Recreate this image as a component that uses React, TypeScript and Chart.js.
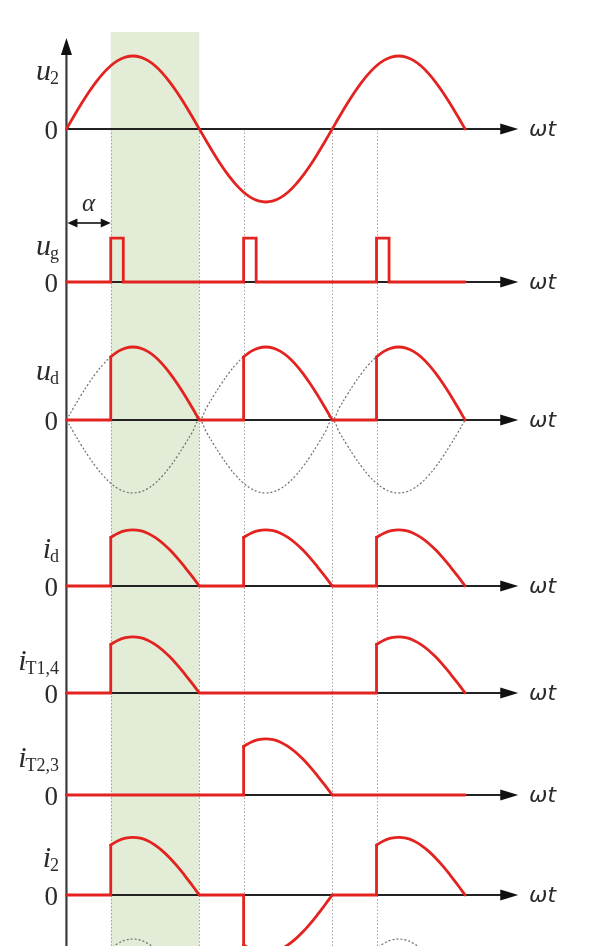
import React, { useEffect, useRef } from 'react';
import { Chart, registerables } from 'chart.js';

Chart.register(...registerables);

// ---------------- data ----------------
const STEP_DEG = 10;
// normalised half-wave shape, sampled every 10° from 0° to 180°
const SIN_HALF_WAVE = [0, 0.174, 0.342, 0.5, 0.643, 0.766, 0.866, 0.94, 0.985, 1, 0.985, 0.94, 0.866, 0.766, 0.643, 0.5, 0.342, 0.174, 0];
const HALF_CYCLE_STARTS = [0, 180, 360];
const END_DEG = 540;
const ALPHA_DEG = 60;
const PULSE_WIDTH_DEG = 17;
const PULSE_HEIGHT = 0.6;
const U2_AMP = 1;
const UD_AMP = 1;
const ID_AMP = 0.77;
const IT_AMP = 0.77;
const I2_AMP = 0.79;
const U2_SIGNS = [1, -1, 1];
const UD_SIGNS = [1, 1, 1];
const ID_SIGNS = [1, 1, 1];
const IT14_SIGNS = [1, 0, 1];
const IT23_SIGNS = [0, 1, 0];
const I2_SIGNS = [1, -1, 1];
const NEXT_DOTTED_SIGNS = [1, 0, 1];
const SHADE_FROM_DEG = 60;
const SHADE_TO_DEG = 180;
const MARKER_ANGLES = [60, 180, 240, 360, 420];
const PANEL_MAIN = ['u', 'u', 'u', 'i', 'i', 'i', 'i'];
const PANEL_SUB = ['2', 'g', 'd', 'd', 'T1,4', 'T2,3', '2'];
const ZERO_TICK = '0';
const X_AXIS_LABEL = 'ωt';
const ALPHA_LABEL = 'α';

// ---------------- layout ----------------
const W = 598;
const H = 946;
const X_MIN = -90;
const X_MAX = 720;
const AXIS_ARROW_DEG = 612;
const PX_PER_UNIT = 73;
const PANEL_ZERO_PX = [129, 282, 420, 586, 693, 795, 895, 1012];
const LABEL_BASELINE_DY = [-49, -27, -40, -28, -23, -28, -28];
const AXIS_IDS = ['yU2', 'yUg', 'yUd', 'yId', 'yIt14', 'yIt23', 'yI2', 'yNext'];
const RED = '#e3231f';
const AXIS_COLOR = '#222222';
const TEXT_COLOR = '#2b2b2b';
const BAND_COLOR = '#e2ecd6';

type P = { x: number; y: number };

function halfWave(base: number, fromDeg: number, sign: number, amp: number): P[] {
  const pts: P[] = [];
  SIN_HALF_WAVE.forEach((v, i) => {
    const a = i * STEP_DEG;
    if (a >= fromDeg) pts.push({ x: base + a, y: sign * amp * v });
  });
  return pts;
}

function redSet(data: P[], yAxisID: string, curved: boolean) {
  return {
    data,
    yAxisID,
    xAxisID: 'x',
    borderColor: RED,
    borderWidth: 2.8,
    pointRadius: 0,
    tension: curved ? 0.4 : 0,
    fill: false,
    order: 0,
    borderCapStyle: 'round',
    borderJoinStyle: 'miter',
  };
}

function dottedSet(data: P[], yAxisID: string) {
  return {
    data,
    yAxisID,
    xAxisID: 'x',
    borderColor: '#6f6f6f',
    borderWidth: 1.2,
    borderDash: [2, 2],
    pointRadius: 0,
    tension: 0.4,
    fill: false,
    order: 1,
  };
}

function controlledSets(signs: number[], amp: number, yAxisID: string) {
  const sets: any[] = [];
  HALF_CYCLE_STARTS.forEach((base, k) => {
    const s = signs[k];
    if (s === 0) {
      sets.push(redSet([{ x: base, y: 0 }, { x: base + 180, y: 0 }], yAxisID, false));
    } else {
      const curve = halfWave(base, ALPHA_DEG, s, amp);
      sets.push(redSet([{ x: base, y: 0 }, { x: base + ALPHA_DEG, y: 0 }, curve[0]], yAxisID, false));
      sets.push(redSet(curve, yAxisID, true));
    }
  });
  return sets;
}

function buildDatasets() {
  const sets: any[] = [];
  // u2
  const u2: P[] = [];
  HALF_CYCLE_STARTS.forEach((base, k) => {
    const pts = halfWave(base, 0, U2_SIGNS[k], U2_AMP);
    (k === 0 ? pts : pts.slice(1)).forEach((p) => u2.push(p));
  });
  sets.push(redSet(u2, AXIS_IDS[0], true));
  // ug pulses
  const ug: P[] = [{ x: 0, y: 0 }];
  HALF_CYCLE_STARTS.forEach((base) => {
    const a = base + ALPHA_DEG;
    ug.push({ x: a, y: 0 }, { x: a, y: PULSE_HEIGHT }, { x: a + PULSE_WIDTH_DEG, y: PULSE_HEIGHT }, { x: a + PULSE_WIDTH_DEG, y: 0 });
  });
  ug.push({ x: END_DEG, y: 0 });
  sets.push(redSet(ug, AXIS_IDS[1], false));
  // ud with dotted reference
  const up: P[] = [];
  const dn: P[] = [];
  HALF_CYCLE_STARTS.forEach((base, k) => {
    const a = halfWave(base, 0, 1, UD_AMP);
    const b = halfWave(base, 0, -1, UD_AMP);
    (k === 0 ? a : a.slice(1)).forEach((p) => up.push(p));
    (k === 0 ? b : b.slice(1)).forEach((p) => dn.push(p));
  });
  sets.push(dottedSet(up, AXIS_IDS[2]));
  sets.push(dottedSet(dn, AXIS_IDS[2]));
  sets.push(...controlledSets(UD_SIGNS, UD_AMP, AXIS_IDS[2]));
  sets.push(...controlledSets(ID_SIGNS, ID_AMP, AXIS_IDS[3]));
  sets.push(...controlledSets(IT14_SIGNS, IT_AMP, AXIS_IDS[4]));
  sets.push(...controlledSets(IT23_SIGNS, IT_AMP, AXIS_IDS[5]));
  sets.push(...controlledSets(I2_SIGNS, I2_AMP, AXIS_IDS[6]));
  // partially visible next panel
  HALF_CYCLE_STARTS.forEach((base, k) => {
    if (NEXT_DOTTED_SIGNS[k] !== 0) sets.push(dottedSet(halfWave(base, 0, NEXT_DOTTED_SIGNS[k], 1), AXIS_IDS[7]));
  });
  return sets;
}

function arrowHead(ctx: CanvasRenderingContext2D, tx: number, ty: number, dx: number, dy: number, len: number, half: number) {
  const bx = tx - dx * len;
  const by = ty - dy * len;
  ctx.beginPath();
  ctx.moveTo(tx, ty);
  ctx.lineTo(bx - dy * half, by + dx * half);
  ctx.lineTo(bx + dy * half, by - dx * half);
  ctx.closePath();
  ctx.fill();
}

const decorPlugin = {
  id: 'decor',
  beforeDatasetsDraw(chart: any) {
    const ctx: CanvasRenderingContext2D = chart.ctx;
    const xs = chart.scales.x;
    const px = (d: number) => xs.getPixelForValue(d);
    const zy = (i: number) => chart.scales[AXIS_IDS[i]].getPixelForValue(0);
    ctx.save();
    // shaded band
    ctx.fillStyle = BAND_COLOR;
    ctx.fillRect(px(SHADE_FROM_DEG), 32, px(SHADE_TO_DEG) - px(SHADE_FROM_DEG), H - 32);
    // dotted markers
    ctx.strokeStyle = '#a3a3a3';
    ctx.lineWidth = 1;
    ctx.setLineDash([1.5, 2]);
    MARKER_ANGLES.forEach((a) => {
      const X = Math.round(px(a)) + 0.5;
      ctx.beginPath();
      ctx.moveTo(X, zy(0));
      ctx.lineTo(X, H);
      ctx.stroke();
    });
    ctx.setLineDash([]);
    // time axes
    ctx.strokeStyle = AXIS_COLOR;
    ctx.fillStyle = '#111';
    ctx.lineWidth = 2.2;
    const x0 = px(0);
    const tip = px(AXIS_ARROW_DEG);
    for (let i = 0; i < 7; i++) {
      const y = zy(i);
      ctx.beginPath();
      ctx.moveTo(x0, y);
      ctx.lineTo(tip - 12, y);
      ctx.stroke();
      arrowHead(ctx, tip, y, 1, 0, 18, 5.5);
    }
    // vertical axis
    ctx.strokeStyle = '#3a3a3a';
    ctx.beginPath();
    ctx.moveTo(x0, 50);
    ctx.lineTo(x0, H);
    ctx.stroke();
    arrowHead(ctx, x0, 38, 0, -1, 17, 5.5);
    // alpha dimension arrow
    const ay = 223;
    const ax1 = px(0) + 1;
    const ax2 = px(ALPHA_DEG);
    ctx.strokeStyle = '#111';
    ctx.lineWidth = 1.6;
    ctx.beginPath();
    ctx.moveTo(ax1 + 6, ay);
    ctx.lineTo(ax2 - 6, ay);
    ctx.stroke();
    arrowHead(ctx, ax1, ay, -1, 0, 10, 4.5);
    arrowHead(ctx, ax2, ay, 1, 0, 10, 4.5);
    ctx.restore();
  },
  afterDatasetsDraw(chart: any) {
    const ctx: CanvasRenderingContext2D = chart.ctx;
    const xs = chart.scales.x;
    const zy = (i: number) => chart.scales[AXIS_IDS[i]].getPixelForValue(0);
    ctx.save();
    ctx.fillStyle = TEXT_COLOR;
    ctx.textBaseline = 'alphabetic';
    const right = 59;
    const subFont = '18px "Liberation Serif"';
    const mainFont = 'italic 30px "Liberation Serif"';
    for (let i = 0; i < 7; i++) {
      const y = zy(i);
      // name
      ctx.font = subFont;
      const sw = ctx.measureText(PANEL_SUB[i]).width;
      ctx.font = mainFont;
      const mw = ctx.measureText(PANEL_MAIN[i]).width;
      const subX = right - sw;
      const base = y + LABEL_BASELINE_DY[i];
      ctx.textAlign = 'left';
      ctx.fillText(PANEL_MAIN[i], subX - mw + 1, base);
      ctx.font = subFont;
      ctx.fillText(PANEL_SUB[i], subX, base + 4);
      // zero tick
      ctx.font = '27px "Liberation Serif"';
      ctx.textAlign = 'right';
      ctx.fillText(ZERO_TICK, 58, y + 10);
      // ωt
      ctx.font = 'italic 22px "DejaVu Sans"';
      ctx.textAlign = 'left';
      ctx.fillText(X_AXIS_LABEL, 529, y + 7);
    }
    ctx.font = 'italic 25px "Liberation Serif"';
    ctx.textAlign = 'center';
    ctx.fillText(ALPHA_LABEL, (xs.getPixelForValue(0) + xs.getPixelForValue(ALPHA_DEG)) / 2, 211);
    ctx.restore();
  },
};

export default function App() {
  const ref = useRef<HTMLCanvasElement | null>(null);
  useEffect(() => {
    if (!ref.current) return;
    const scales: any = {
      x: { type: 'linear', display: false, min: X_MIN, max: X_MAX },
    };
    AXIS_IDS.forEach((id, i) => {
      const z = PANEL_ZERO_PX[i];
      scales[id] = { type: 'linear', display: false, min: -(H - z) / PX_PER_UNIT, max: z / PX_PER_UNIT };
    });
    const chart = new Chart(ref.current, {
      type: 'line',
      data: { datasets: buildDatasets() as any },
      options: {
        animation: false,
        responsive: false,
        maintainAspectRatio: false,
        devicePixelRatio: 1,
        layout: { padding: 0 },
        plugins: { legend: { display: false }, tooltip: { enabled: false }, title: { display: false } },
        events: [],
        scales,
      } as any,
      plugins: [decorPlugin as any],
    });
    return () => chart.destroy();
  }, []);
  return (
    <div style={{ position: 'fixed', left: 0, top: 0, width: W, height: H, background: '#fff' }}>
      <canvas ref={ref} width={W} height={H} style={{ display: 'block', width: W, height: H }} />
    </div>
  );
}
